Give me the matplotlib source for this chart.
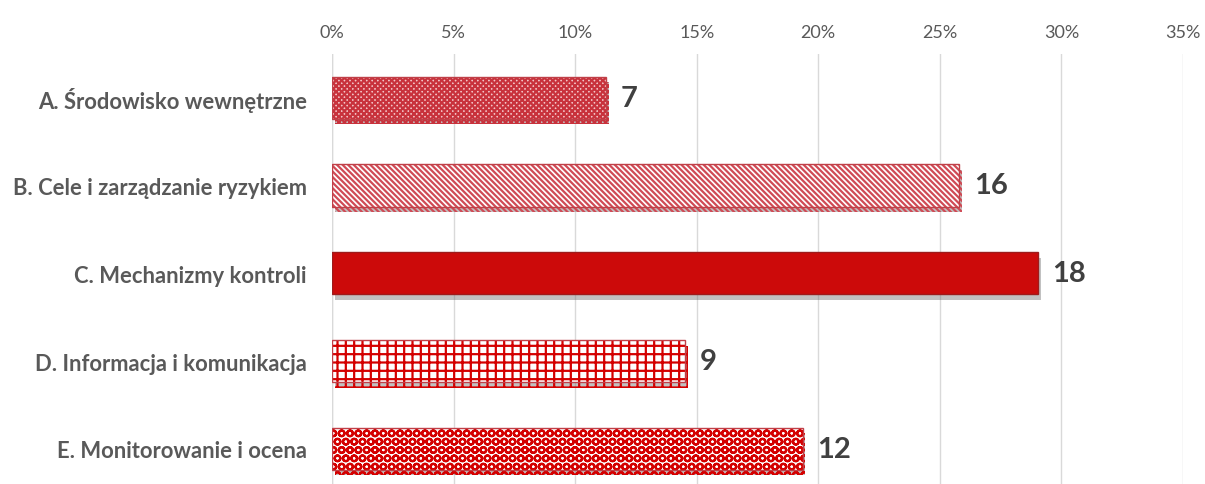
import matplotlib
matplotlib.use("Agg")
import matplotlib.pyplot as plt
import matplotlib.patheffects as pe
from matplotlib.ticker import PercentFormatter

plt.rcParams['font.family'] = ['Lato', 'DejaVu Sans']
plt.rcParams['hatch.linewidth'] = 1.6

categories = ["A. Środowisko wewnętrzne", "B. Cele i zarządzanie ryzykiem",
              "C. Mechanizmy kontroli", "D. Informacja i komunikacja",
              "E. Monitorowanie i ocena"]
counts = [7, 16, 18, 9, 12]
total = sum(counts)
shares = [c / total for c in counts]

# face colour, hatch colour, hatch pattern per bar
faces = ["#f3c6c9", "#ffffff", "#cc0a0a", "#ffffff", "#ffffff"]
hatch_cols = ["#c8323c", "#d04a55", "#cc0a0a", "#d40000", "#d40000"]
hatches = ["xxxxxx", "\\\\\\\\\\\\", None, "++", "OO"]

fig = plt.figure(figsize=(12.05, 4.85), dpi=100)
ax = fig.add_axes([0.2755, -0.018, 0.7062, 0.905])

y = range(len(categories))
shadow = [pe.SimplePatchShadow(offset=(2, -4), shadow_rgbFace="#666666", alpha=0.4), pe.Normal()]
for i, (s, fc, hc, h) in enumerate(zip(shares, faces, hatch_cols, hatches)):
    b = ax.barh(i, s, height=0.48, color=fc, edgecolor=hc, hatch=h, linewidth=0, zorder=3)
    for p in b:
        p.set_path_effects(shadow)
    ax.barh(i, s, height=0.48, fill=False, edgecolor="#9e1b1b" if i == 2 else "#c04048",
            linewidth=1.0, zorder=4)
    ax.text(s + 0.006, i, str(counts[i]), va="center", ha="left", fontsize=21,
            fontweight="bold", color="#404040", zorder=5)

ax.set_xlim(0, 0.35)
ax.set_ylim(4.5, -0.5)
ax.set_xticks([0, 0.05, 0.10, 0.15, 0.20, 0.25, 0.30, 0.35])
ax.xaxis.set_major_formatter(PercentFormatter(1.0, decimals=0))
ax.xaxis.tick_top()
ax.set_yticks(list(y))
ax.set_yticklabels(categories, fontsize=15.8, fontweight="bold", color="#595959")
ax.tick_params(axis="x", length=0, labelsize=13, labelcolor="#595959", pad=10)
ax.tick_params(axis="y", length=0, pad=18)
ax.grid(axis="x", color="#d9d9d9", linewidth=1, zorder=0)
for sp in ax.spines.values():
    sp.set_visible(False)
ax.axvline(0, color="#d9d9d9", linewidth=1, zorder=1)

fig.savefig("out.png", dpi=100)
